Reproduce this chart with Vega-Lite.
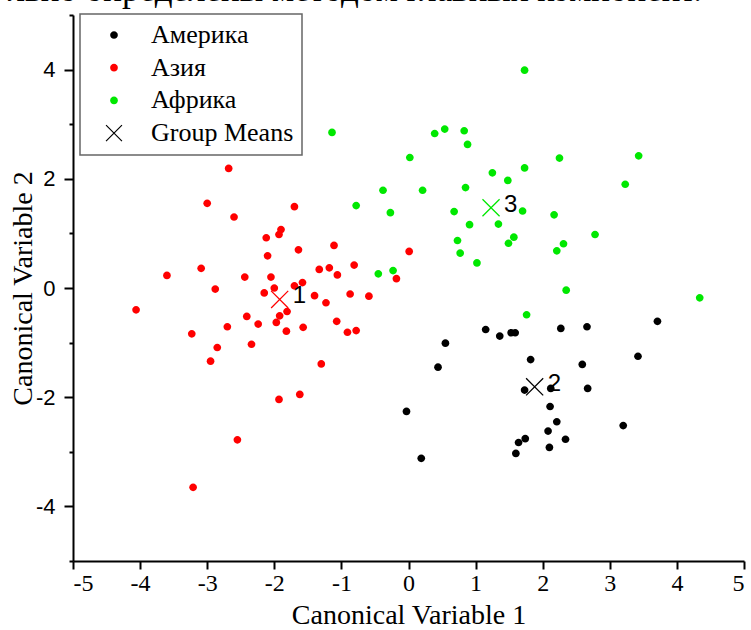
{
  "$schema": "https://vega.github.io/schema/vega-lite/v6.json",
  "autosize": {"type": "none"},
  "width": 671,
  "height": 546,
  "padding": {"left": 73, "top": 15, "right": 7, "bottom": 69},
  "background": "white",
  "title": {
    "text": "льно определены методом главных компонент.",
    "orient": "top",
    "anchor": "end",
    "frame": "group",
    "baseline": "alphabetic",
    "offset": 0,
    "dy": 32,
    "dx": -42,
    "font": "Liberation Serif",
    "fontSize": 35,
    "fontWeight": "normal",
    "color": "black"
  },
  "config": {
    "view": {"stroke": null},
    "axis": {
      "grid": false,
      "domainColor": "black",
      "domainWidth": 2,
      "tickColor": "black",
      "tickWidth": 2,
      "labelColor": "black",
      "titleColor": "black",
      "titleFont": "Liberation Serif",
      "titleFontSize": 28,
      "titleFontWeight": "normal"
    }
  },
  "datasets": {
    "pts": [
      {"g": "Азия", "x": -2.68, "y": 2.19}, {"g": "Азия", "x": -3.00, "y": 1.55},
      {"g": "Азия", "x": -2.60, "y": 1.30}, {"g": "Азия", "x": -1.70, "y": 1.49},
      {"g": "Азия", "x": -1.90, "y": 1.07}, {"g": "Азия", "x": -1.93, "y": 0.98},
      {"g": "Азия", "x": -2.12, "y": 0.92}, {"g": "Азия", "x": -1.64, "y": 0.70},
      {"g": "Азия", "x": -1.11, "y": 0.78}, {"g": "Азия", "x": -2.10, "y": 0.59},
      {"g": "Азия", "x": 0.01, "y": 0.67}, {"g": "Азия", "x": -3.09, "y": 0.36},
      {"g": "Азия", "x": -3.60, "y": 0.23}, {"g": "Азия", "x": -2.44, "y": 0.20},
      {"g": "Азия", "x": -2.05, "y": 0.20}, {"g": "Азия", "x": -1.33, "y": 0.34},
      {"g": "Азия", "x": -1.18, "y": 0.37}, {"g": "Азия", "x": -1.06, "y": 0.24},
      {"g": "Азия", "x": -0.81, "y": 0.42}, {"g": "Азия", "x": -0.18, "y": 0.17},
      {"g": "Азия", "x": -2.88, "y": -0.02}, {"g": "Азия", "x": -4.06, "y": -0.40},
      {"g": "Азия", "x": -2.00, "y": 0.00}, {"g": "Азия", "x": -2.15, "y": -0.09},
      {"g": "Азия", "x": -1.70, "y": 0.04}, {"g": "Азия", "x": -1.58, "y": 0.10},
      {"g": "Азия", "x": -1.40, "y": -0.14}, {"g": "Азия", "x": -0.87, "y": -0.11},
      {"g": "Азия", "x": -0.59, "y": -0.15}, {"g": "Азия", "x": -1.23, "y": -0.27},
      {"g": "Азия", "x": -1.81, "y": -0.43}, {"g": "Азия", "x": -2.41, "y": -0.52},
      {"g": "Азия", "x": -1.92, "y": -0.51}, {"g": "Азия", "x": -1.97, "y": -0.63},
      {"g": "Азия", "x": -2.24, "y": -0.66}, {"g": "Азия", "x": -2.70, "y": -0.71},
      {"g": "Азия", "x": -1.57, "y": -0.72}, {"g": "Азия", "x": -1.07, "y": -0.61},
      {"g": "Азия", "x": -3.23, "y": -0.84}, {"g": "Азия", "x": -1.82, "y": -0.79},
      {"g": "Азия", "x": -0.91, "y": -0.81}, {"g": "Азия", "x": -0.78, "y": -0.78},
      {"g": "Азия", "x": -2.34, "y": -1.03}, {"g": "Азия", "x": -2.85, "y": -1.09},
      {"g": "Азия", "x": -2.95, "y": -1.34}, {"g": "Азия", "x": -1.30, "y": -1.39},
      {"g": "Азия", "x": -1.93, "y": -2.04}, {"g": "Азия", "x": -1.62, "y": -1.95},
      {"g": "Азия", "x": -2.55, "y": -2.78}, {"g": "Азия", "x": -3.21, "y": -3.65},

      {"g": "Америка", "x": 3.71, "y": -0.61}, {"g": "Америка", "x": 1.15, "y": -0.76},
      {"g": "Америка", "x": 1.36, "y": -0.88}, {"g": "Америка", "x": 1.53, "y": -0.82},
      {"g": "Америка", "x": 1.59, "y": -0.82}, {"g": "Америка", "x": 2.27, "y": -0.74},
      {"g": "Америка", "x": 2.66, "y": -0.71}, {"g": "Америка", "x": 0.55, "y": -1.01},
      {"g": "Америка", "x": 0.44, "y": -1.45}, {"g": "Америка", "x": 1.82, "y": -1.31},
      {"g": "Америка", "x": 2.59, "y": -1.40}, {"g": "Америка", "x": 3.42, "y": -1.25},
      {"g": "Америка", "x": 1.73, "y": -1.87}, {"g": "Америка", "x": 2.12, "y": -1.84},
      {"g": "Америка", "x": 2.67, "y": -1.84}, {"g": "Америка", "x": -0.03, "y": -2.26},
      {"g": "Америка", "x": 2.11, "y": -2.17}, {"g": "Америка", "x": 2.21, "y": -2.45},
      {"g": "Америка", "x": 3.20, "y": -2.52}, {"g": "Америка", "x": 2.08, "y": -2.62},
      {"g": "Америка", "x": 1.74, "y": -2.76}, {"g": "Америка", "x": 1.64, "y": -2.83},
      {"g": "Америка", "x": 2.34, "y": -2.77}, {"g": "Америка", "x": 2.10, "y": -2.92},
      {"g": "Америка", "x": 1.60, "y": -3.03}, {"g": "Америка", "x": 0.19, "y": -3.12},

      {"g": "Африка", "x": 1.73, "y": 3.99}, {"g": "Африка", "x": -1.14, "y": 2.85},
      {"g": "Африка", "x": 0.39, "y": 2.83}, {"g": "Африка", "x": 0.54, "y": 2.91},
      {"g": "Африка", "x": 0.83, "y": 2.88}, {"g": "Африка", "x": 0.88, "y": 2.63},
      {"g": "Африка", "x": 0.02, "y": 2.39}, {"g": "Африка", "x": 2.25, "y": 2.38},
      {"g": "Африка", "x": 3.43, "y": 2.42}, {"g": "Африка", "x": 1.73, "y": 2.20},
      {"g": "Африка", "x": 1.25, "y": 2.11}, {"g": "Африка", "x": 1.48, "y": 1.97},
      {"g": "Африка", "x": 3.23, "y": 1.90}, {"g": "Африка", "x": -0.38, "y": 1.79},
      {"g": "Африка", "x": 0.21, "y": 1.79}, {"g": "Африка", "x": 0.85, "y": 1.84},
      {"g": "Африка", "x": -0.78, "y": 1.51}, {"g": "Африка", "x": -0.27, "y": 1.38},
      {"g": "Африка", "x": 0.68, "y": 1.40}, {"g": "Африка", "x": 1.70, "y": 1.41},
      {"g": "Африка", "x": 2.17, "y": 1.34}, {"g": "Африка", "x": 0.91, "y": 1.16},
      {"g": "Африка", "x": 1.34, "y": 1.17}, {"g": "Африка", "x": 0.73, "y": 0.87},
      {"g": "Африка", "x": 1.57, "y": 0.93}, {"g": "Африка", "x": 1.49, "y": 0.82},
      {"g": "Африка", "x": 2.78, "y": 0.98}, {"g": "Африка", "x": 2.31, "y": 0.81},
      {"g": "Африка", "x": 2.21, "y": 0.68}, {"g": "Африка", "x": 0.77, "y": 0.64},
      {"g": "Африка", "x": 1.02, "y": 0.46}, {"g": "Африка", "x": -0.45, "y": 0.26},
      {"g": "Африка", "x": -0.23, "y": 0.32}, {"g": "Африка", "x": 2.35, "y": -0.04},
      {"g": "Африка", "x": 4.34, "y": -0.18}, {"g": "Африка", "x": 1.76, "y": -0.49}
    ],
    "means": [
      {"g": "Азия", "x": -1.92, "y": -0.21, "n": "1"},
      {"g": "Америка", "x": 1.88, "y": -1.81, "n": "2"},
      {"g": "Африка", "x": 1.23, "y": 1.47, "n": "3"}
    ]
  },
  "layer": [
    {
      "mark": {"type": "rule", "color": "#a8a8a8", "strokeWidth": 1.5},
      "encoding": {"x": {"datum": 0, "type": "quantitative"}}
    },
    {
      "mark": {"type": "rule", "color": "#a8a8a8", "strokeWidth": 1.5},
      "encoding": {"y": {"datum": 0, "type": "quantitative"}}
    },
    {
      "data": {"name": "pts"},
      "mark": {"type": "point", "filled": true, "opacity": 1, "size": 280, "strokeWidth": 0},
      "encoding": {
        "x": {
          "field": "x", "type": "quantitative",
          "scale": {"domain": [-5, 5], "nice": false, "zero": false},
          "axis": {
            "title": "Canonical Variable 1",
            "values": [-5, -4.5, -4, -3.5, -3, -2.5, -2, -1.5, -1, -0.5, 0, 0.5, 1, 1.5, 2, 2.5, 3, 3.5, 4, 4.5, 5],
            "labelExpr": "datum.value % 1 === 0 ? toString(datum.value) : ''",
            "tickSize": {"condition": {"test": "datum.value % 1 !== 0", "value": 4}, "value": 8},
            "labelFont": "Liberation Serif",
            "labelFontSize": 24,
            "labelPadding": 2,
            "labelOverlap": false,
            "titlePadding": 6
          }
        },
        "y": {
          "field": "y", "type": "quantitative",
          "scale": {"domain": [-5, 5], "nice": false, "zero": false},
          "axis": {
            "title": "Canonical Variable 2",
            "values": [-5, -4, -3, -2, -1, 0, 1, 2, 3, 4, 5],
            "labelExpr": "datum.value % 2 === 0 ? toString(datum.value) : ''",
            "tickSize": {"condition": {"test": "datum.value % 2 !== 0", "value": 4}, "value": 9},
            "labelFont": "Liberation Sans",
            "labelFontSize": 22,
            "labelPadding": 9,
            "labelOverlap": false,
            "titlePadding": -2
          }
        },
        "color": {
          "field": "g", "type": "nominal",
          "scale": {
            "domain": ["Америка", "Азия", "Африка", "Group Means"],
            "range": ["#000000", "#ff0000", "#00e800", "#000000"]
          },
          "legend": {
            "title": null,
            "orient": "none",
            "legendX": 7,
            "legendY": -1,
            "padding": 8,
            "strokeColor": "#666666",
            "fillColor": "white",
            "labelFont": "Liberation Serif",
            "labelFontSize": 26,
            "labelColor": "black",
            "labelLimit": 400,
            "symbolSize": 280,
            "symbolOffset": 13,
            "labelOffset": 24,
            "rowPadding": 6.7,
            "symbolStrokeWidth": 0,
            "symbolOpacity": 1,
            "encode": {"legend": {"update": {"strokeWidth": {"value": 1.5}}}}
          }
        },
        "shape": {
          "field": "g", "type": "nominal",
          "scale": {
            "domain": ["Америка", "Азия", "Африка", "Group Means"],
            "range": [
              "M-0.46,0A0.46,0.46 0 1,0 0.46,0A0.46,0.46 0 1,0 -0.46,0Z",
              "M-0.46,0A0.46,0.46 0 1,0 0.46,0A0.46,0.46 0 1,0 -0.46,0Z",
              "M-0.46,0A0.46,0.46 0 1,0 0.46,0A0.46,0.46 0 1,0 -0.46,0Z",
              "M-1,-0.9L-0.9,-1L1,0.9L0.9,1ZM-1,0.9L0.9,-1L1,-0.9L-0.9,1Z"
            ]
          }
        }
      }
    },
    {
      "data": {"name": "means"},
      "mark": {
        "type": "point", "filled": true, "opacity": 1, "size": 324, "strokeWidth": 0,
        "shape": "M-1,-0.9L-0.9,-1L1,0.9L0.9,1ZM-1,0.9L0.9,-1L1,-0.9L-0.9,1Z"
      },
      "encoding": {
        "x": {"field": "x", "type": "quantitative"},
        "y": {"field": "y", "type": "quantitative"},
        "color": {"field": "g", "type": "nominal"}
      }
    },
    {
      "data": {"name": "means"},
      "mark": {
        "type": "text", "align": "left", "baseline": "middle", "dx": 13, "dy": -3,
        "font": "Liberation Sans", "fontSize": 24, "color": "black"
      },
      "encoding": {
        "x": {"field": "x", "type": "quantitative"},
        "y": {"field": "y", "type": "quantitative"},
        "text": {"field": "n"}
      }
    }
  ]
}
